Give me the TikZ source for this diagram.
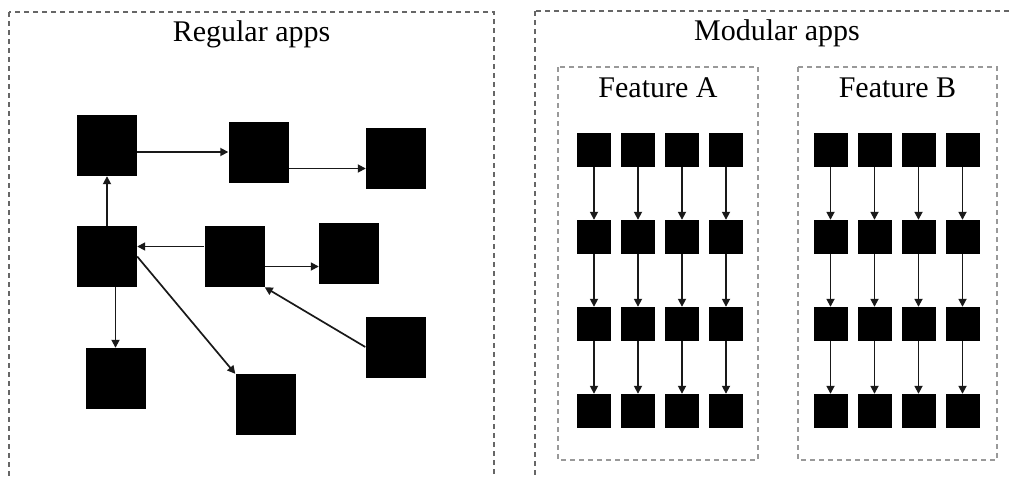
\documentclass[tikz,border=0pt]{standalone}
\usepackage{fontspec}
\setmainfont{Liberation Serif}
\usetikzlibrary{positioning, arrows.meta}

\begin{document}
\begin{tikzpicture}[
    x=1pt, y=-1pt,
    >={Triangle[length=8pt, width=8pt]},
    % Styles
    block/.style={fill=black, inner sep=0pt, minimum width=60pt, minimum height=61pt},
    cell/.style={fill=black, inner sep=0pt, minimum size=34pt},
    appbox/.style={draw=black!60, dash pattern=on 5pt off 4pt, line width=1.1pt},
    featbox/.style={draw=black!40, dash pattern=on 5pt off 4pt, line width=1.1pt},
    title/.style={font=\fontsize{30}{36}\selectfont, anchor=base, inner sep=0pt},
    link/.style={->, line width=1.7pt, draw=black!90}
    ]

    % Page size of the reference
    \clip (0,0) rectangle (1013,477);

    % 1. Outer dashed boxes
    \draw[appbox] (9,12) rectangle (494,500);
    \draw[appbox] (535,11) rectangle (1030,500);
    \draw[featbox] (558,67) rectangle (758,460);
    \draw[featbox] (798,67) rectangle (997,460);

    % 2. Titles
    \node (regular) [title] at (251.5,41) {Regular apps};
    \node (modular) [title] at (777,40) {Modular apps};
    \node (feata) [title] at (658,97) {Feature A};
    \node (featb) [title] at (897.5,97) {Feature B};

    % 3. Regular apps: loose blocks
    \node (r1) [block] at (107,145.5) {};
    \node (r2) [block] at (258.5,152) {};
    \node (r3) [block] at (396,158.5) {};
    \node (r4) [block] at (107,256.5) {};
    \node (r5) [block] at (234.5,256.5) {};
    \node (r6) [block] at (349,253) {};
    \node (r7) [block] at (395.5,347) {};
    \node (r8) [block] at (265.5,404.5) {};
    \node (r9) [block] at (115.5,378.5) {};

    % Tangled dependencies
    \draw[link] (r2.west -| r1.east) -- (r2.west);
    \draw[link] ([yshift=-10pt]r3.west -| r2.east) -- ([yshift=-10pt]r3.west);
    \draw[link] (r4.north) -- (r1.south);
    \draw[link] ([yshift=10pt]r5.west) -- ([yshift=10pt]r4.east);
    \draw[link] ([yshift=-10pt]r5.east) -- ([yshift=-10pt]r5.east -| r6.west);
    \draw[link] (r7.west) -- (r5.south east);
    \draw[link] (r4.east) -- (r8.north west);
    \draw[link] (r9.north |- r4.south) -- (r9.north);

    % 4. Modular apps: one grid of cells per feature
    \foreach \f/\x in {a/594, b/830.5} {
        \foreach \r in {1,...,4} {
            \foreach \c in {1,...,4} {
                \node (\f\r\c) [cell] at ({\x+44*(\c-1)}, {150+87*(\r-1)}) {};
            }
        }
        % Straight top-down dependencies
        \foreach \r [evaluate=\r as \n using int(\r+1)] in {1,2,3} {
            \foreach \c in {1,...,4} {
                \draw[link] (\f\r\c) -- (\f\n\c);
            }
        }
    }
\end{tikzpicture}
\end{document}
